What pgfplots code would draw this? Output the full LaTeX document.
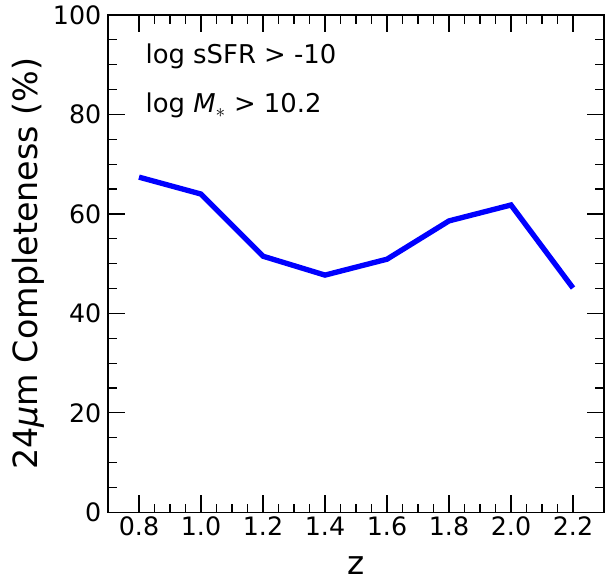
\documentclass[border=0pt]{standalone}
\usepackage{fontspec}
\setmainfont{DejaVu Sans}
\usepackage{pgfplots}
\pgfplotsset{compat=1.18}
\begin{document}
\begin{tikzpicture}
\begin{axis}[
  name=ax,
  scale only axis,
  width=372pt, height=373pt,
  xmin=0.7, xmax=2.3, ymin=0, ymax=100,
  xtick={0.8,1.0,1.2,1.4,1.6,1.8,2.0,2.2},
  ytick={0,20,40,60,80,100},
  minor x tick num=3,
  minor y tick num=3,
  tick align=inside,
  xtick pos=both, ytick pos=both,
  major tick length=12.75pt, minor tick length=6.5pt,
  every tick/.style={black, line width=0.9pt},
  axis line style={line width=1.1pt},
  /pgf/number format/assume math mode=true,
  xticklabel style={/pgf/number format/.cd, fixed, fixed zerofill, precision=1},
  ticklabel style={font=\fontsize{19}{22}\selectfont},
  yticklabel style={xshift=-1.5pt},
  xlabel={z},
  ylabel={24{\itshape μ}m Completeness (\%)},
  xlabel style={font=\fontsize{24.5}{28}\selectfont, at={(axis description cs:0.5,0)}, anchor=base, inner sep=0pt, yshift=-46.5pt},
  ylabel style={font=\fontsize{25}{28}\selectfont, at={(axis description cs:0,0.5)}, anchor=base, inner sep=0pt, rotate=0, yshift=53pt},
]
\addplot[blue, line width=4pt] coordinates {
  (0.8,67.4) (1.0,64.0) (1.2,51.5) (1.4,47.7) (1.6,50.9) (1.8,58.6) (2.0,61.8) (2.2,45.1)
};
\node[anchor=base west, inner sep=0pt, xshift=28pt, yshift=-36.75pt, font=\fontsize{19.4}{22}\selectfont] at (axis description cs:0,1) {log sSFR > -10};
\node[anchor=base west, inner sep=0pt, xshift=28pt, yshift=-73.5pt, font=\fontsize{19.4}{22}\selectfont] at (axis description cs:0,1) {log {\itshape M}$_{\ast}$ > 10.2};
\end{axis}
\pgfresetboundingbox
\path[use as bounding box] ([xshift=-81pt,yshift=-49.5pt]ax.south west) rectangle ([xshift=0.75pt,yshift=11.25pt]ax.north east);
\end{tikzpicture}
\end{document}
